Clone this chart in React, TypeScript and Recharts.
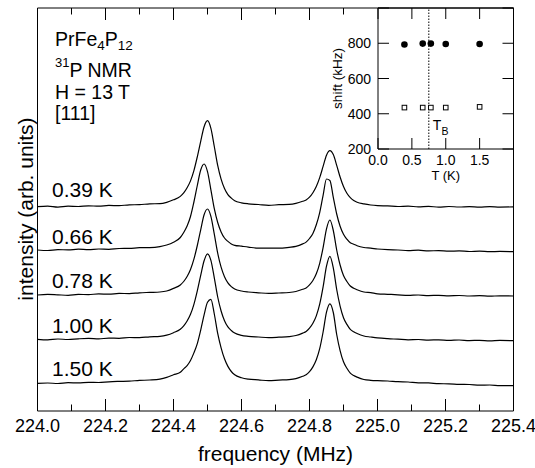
import React from 'react';
import {
  LineChart,
  Line,
  XAxis,
  YAxis,
  ReferenceArea,
  ReferenceLine,
  ScatterChart,
  Scatter,
} from 'recharts';

// ---------- data ----------
const freq = [
  224.0, 224.03, 224.06, 224.09, 224.12, 224.15, 224.18, 224.21, 224.24, 224.27, 224.3, 224.33, 224.36,
  224.38, 224.4, 224.42, 224.43, 224.44, 224.45, 224.46, 224.47, 224.48, 224.49, 224.5, 224.51, 224.52,
  224.53, 224.54, 224.55, 224.56, 224.57, 224.58, 224.6, 224.62,
  224.65, 224.68, 224.71, 224.74, 224.76, 224.78,
  224.79, 224.8, 224.81, 224.82, 224.83, 224.84, 224.85, 224.86, 224.87, 224.88, 224.89, 224.9, 224.91,
  224.92, 224.93, 224.94, 224.96, 224.98,
  225.0, 225.03, 225.06, 225.09, 225.12, 225.15, 225.18, 225.21, 225.24, 225.27, 225.3, 225.33, 225.36, 225.4,
];

const sig039 = [
  0, 0.6, -0.4, 0.5, 0.2, 0.9, 0.5, 1.3, 1.0, 1.9, 2.0, 2.9, 3.0,
  4.3, 6.9, 10.3, 13.8, 18.9, 25.8, 36.1, 49.9, 65.4, 80.0, 86.0, 78.3, 60.2, 41.3, 27.5, 18.1, 12.0, 8.6, 6.0, 3.9, 2.9,
  2.2, 1.4, 2.0, 2.3, 3.3, 5.4,
  6.7, 9.5, 14.0, 20.2, 29.1, 40.3, 51.5, 56.0, 52.1, 41.4, 29.7, 20.2, 13.4, 9.0, 6.2, 4.5, 2.8, 1.7,
  1.1, 0.8, 0.2, 0.6, -0.2, 0.3, -0.4, 0.2, -0.3, 0.1, -0.5, 0.0, -0.4, -0.2,
];

const sig066 = [
  0, -0.5, 0.4, 0.1, 0.8, 0.3, 1.0, 0.7, 1.5, 1.6, 2.3, 2.4, 3.4,
  5.0, 7.8, 12.5, 17.5, 24.0, 33.5, 48.0, 64.5, 80.0, 86.0, 78.3, 60.2, 41.3, 27.5, 18.1, 12.0, 8.6, 6.0, 4.7, 3.8, 2.9,
  1.8, 1.9, 1.8, 2.7, 3.6, 6.1,
  7.9, 11.5, 16.6, 25.2, 37.4, 54.7, 71.0, 69.5, 52.6, 36.0, 23.8, 15.8, 10.8, 7.2, 5.8, 4.3, 2.5, 1.9,
  1.0, 0.3, 0.0, -0.6, -0.2, -0.9, -0.6, -1.2, -0.9, -1.5, -1.1, -1.7, -1.4, -1.7,
];

const sig078 = [
  0, 0.7, 0.2, -0.3, 0.6, 0.4, 1.1, 0.8, 1.6, 1.4, 2.2, 2.6, 3.0,
  4.0, 6.6, 10.0, 13.5, 18.5, 25.5, 35.8, 49.5, 65.2, 80.2, 86.0, 78.6, 60.8, 41.8, 27.8, 18.3, 12.2, 8.4, 6.1, 4.0, 3.0,
  2.2, 1.6, 2.0, 2.5, 3.5, 5.7,
  7.1, 10.1, 14.5, 21.2, 31.7, 47.4, 66.1, 75.0, 64.5, 45.0, 30.0, 19.5, 13.5, 9.0, 6.8, 5.3, 3.0, 2.3,
  1.2, 0.7, 0.2, -0.4, 0.0, -0.6, -0.3, -0.8, -0.5, -1.0, -0.7, -1.2, -0.8, -1.0,
];

const sig100 = [
  0, -0.6, 0.3, -0.2, 0.5, 0.9, 0.4, 1.2, 1.0, 1.8, 1.6, 2.5, 3.0,
  4.2, 6.6, 10.0, 13.4, 18.3, 25.0, 35.0, 48.5, 64.0, 78.6, 85.5, 79.0, 61.5, 42.3, 28.3, 18.6, 12.4, 8.8, 6.2, 3.9, 3.0,
  2.3, 1.7, 2.1, 2.7, 3.8, 6.2,
  7.8, 11.1, 16.0, 23.4, 35.1, 52.4, 73.1, 83.0, 71.4, 49.8, 33.2, 21.6, 14.9, 10.0, 7.5, 5.8, 3.3, 2.3,
  1.4, 0.6, 0.1, -0.5, -0.2, -0.8, -0.5, -1.1, -0.7, -1.3, -1.0, -1.5, -1.1, -1.4,
];

const sig150 = [
  0, 0.3, -0.2, 0.6, 0.4, 1.0, 0.8, 1.5, 1.9, 2.2, 2.9, 3.3, 4.2,
  5.9, 8.5, 11.0, 14.4, 17.7, 22.8, 30.4, 39.7, 53.2, 68.4, 81.1, 84.0, 69.3, 49.9, 35.5, 24.5, 16.9, 11.8, 8.5, 5.6, 4.2,
  3.4, 2.6, 3.2, 3.7, 4.7, 7.0,
  8.5, 11.6, 16.4, 23.5, 34.6, 51.3, 71.2, 79.5, 70.8, 48.8, 32.7, 21.5, 15.0, 10.2, 7.8, 6.2, 3.8, 3.0,
  2.6, 2.3, 1.6, 1.3, 0.5, 0.4, -0.4, -0.5, -1.1, -1.2, -1.8, -1.7, -2.3, -2.4,
];

const tempLabels = ['0.39 K', '0.66 K', '0.78 K', '1.00 K', '1.50 K'];
const offsets = [204.3, 161, 116, 71.7, 27.7];
const signals = [sig039, sig066, sig078, sig100, sig150];

const freqTicks = [
  224.0, 224.1, 224.2, 224.3, 224.4, 224.5, 224.6, 224.7, 224.8, 224.9, 225.0, 225.1, 225.2, 225.3, 225.4,
];

// inset
const insetT = [0.39, 0.66, 0.78, 1.0, 1.5];
const shiftHigh = [793, 798, 798, 796, 796];
const shiftLow = [435, 435, 435, 435, 439];
const TB = 0.75;
const insetTTicks = [0, 0.5, 1.0, 1.5, 2.0];
const insetShiftTicks = [200, 400, 600, 800, 1000];

// ---------- layout ----------
const W = 535;
const H = 468;
const FONT = '"Liberation Sans", Arial, Helvetica, sans-serif';
const PLOT_TOP = 8;
const PLOT_BOTTOM = 411;
const PLOT_LEFT = 37.5;
const PLOT_RIGHT = 513.5;
const INSET_LEFT = 378;
const INSET_BOTTOM = 149;
const INSET_FREQ_START = 225.0;

const keys = ['t039', 't066', 't078', 't100', 't150'];

const rows = freq.map((f, i) => {
  const r: Record<string, number> = { f };
  keys.forEach((k, j) => {
    r[k] = offsets[j] + signals[j][i];
  });
  return r;
});

const highData = insetT.map((t, i) => ({ t, s: shiftHigh[i] }));
const lowData = insetT.map((t, i) => ({ t, s: shiftLow[i] }));

const MainTick = (props: any) => {
  const { x, payload } = props;
  const v = payload.value as number;
  const major = Math.round(v * 10) % 2 === 0;
  const len = major ? 12 : 6.5;
  return (
    <g>
      <line x1={x} x2={x} y1={PLOT_BOTTOM} y2={PLOT_BOTTOM - len} stroke="#000" strokeWidth={1} />
      {v < INSET_FREQ_START - 1e-6 && (
        <line x1={x} x2={x} y1={PLOT_TOP} y2={PLOT_TOP + len} stroke="#000" strokeWidth={1} />
      )}
      {major && (
        <text x={x} y={PLOT_BOTTOM + 20.5} textAnchor="middle" fontSize={18} fontFamily={FONT} fill="#000">
          {v.toFixed(1)}
        </text>
      )}
    </g>
  );
};

const InsetXTick = (props: any) => {
  const { x, payload } = props;
  const v = payload.value as number;
  return (
    <g>
      <line x1={x} x2={x} y1={INSET_BOTTOM} y2={INSET_BOTTOM - 11} stroke="#000" strokeWidth={1} />
      <line x1={x} x2={x} y1={PLOT_TOP} y2={PLOT_TOP + 11} stroke="#000" strokeWidth={1} />
      {v < 2 && (
        <text x={x} y={INSET_BOTTOM + 16} textAnchor="middle" fontSize={14} fontFamily={FONT} fill="#000">
          {v.toFixed(1)}
        </text>
      )}
    </g>
  );
};

const InsetYTick = (props: any) => {
  const { y, payload } = props;
  const v = payload.value as number;
  return (
    <g>
      <line x1={INSET_LEFT} x2={INSET_LEFT + 11} y1={y} y2={y} stroke="#000" strokeWidth={1} />
      <line x1={PLOT_RIGHT} x2={PLOT_RIGHT - 11} y1={y} y2={y} stroke="#000" strokeWidth={1} />
      {v < 1000 && (
        <text x={INSET_LEFT - 7} y={y + 5} textAnchor="end" fontSize={14} fontFamily={FONT} fill="#000">
          {v}
        </text>
      )}
    </g>
  );
};

const TBLabel = (props: any) => {
  const vb = props.viewBox || { x: 428.7, y: PLOT_TOP };
  const x = vb.x + 4;
  const y = vb.y + 122;
  return (
    <text x={x} y={y} fontSize={14} fontFamily={FONT} fill="#000">
      T
      <tspan fontSize={10.5} dy={5}>
        B
      </tspan>
    </text>
  );
};

const FilledDot = (p: any) => <circle cx={p.cx} cy={p.cy} r={3.3} fill="#000" />;
const OpenSquare = (p: any) => (
  <rect x={p.cx - 2.3} y={p.cy - 2.3} width={4.6} height={4.6} fill="#fff" stroke="#000" strokeWidth={1} />
);

const labelBaselines = [197, 244, 288, 333, 376];

export default function App() {
  return (
    <div style={{ position: 'absolute', left: 0, top: 0, width: W, height: H, background: '#fff' }}>
      <div style={{ position: 'absolute', left: 0, top: 0 }}>
        <LineChart
          width={W}
          height={H}
          data={rows}
          margin={{ top: PLOT_TOP, right: W - PLOT_RIGHT, bottom: H - PLOT_BOTTOM - 30, left: PLOT_LEFT }}
        >
          <XAxis
            dataKey="f"
            type="number"
            domain={[224, 225.4]}
            ticks={freqTicks}
            interval={0}
            axisLine={false}
            tickLine={false}
            tick={(p: any) => <MainTick {...p} />}
            height={30}
            allowDataOverflow
          />
          <YAxis hide type="number" domain={[0, 403]} allowDataOverflow />
          <ReferenceArea
            x1={224}
            x2={225.4}
            y1={0}
            y2={403}
            fill="#fff"
            fillOpacity={0}
            stroke="#000"
            strokeWidth={1}
            strokeOpacity={1}
            ifOverflow="visible"
          />
          {keys.map((k) => (
            <Line
              key={k}
              dataKey={k}
              type="monotone"
              stroke="#000"
              strokeWidth={1.2}
              dot={false}
              activeDot={false}
              isAnimationActive={false}
            />
          ))}
        </LineChart>
      </div>

      <div style={{ position: 'absolute', left: 0, top: 0, pointerEvents: 'none' }}>
        <ScatterChart
          width={W}
          height={H}
          margin={{ top: PLOT_TOP, right: W - PLOT_RIGHT, bottom: H - INSET_BOTTOM - 30, left: INSET_LEFT - 60 }}
        >
          <XAxis
            dataKey="t"
            type="number"
            domain={[0, 2]}
            ticks={insetTTicks}
            interval={0}
            axisLine={false}
            tickLine={false}
            tick={(p: any) => <InsetXTick {...p} />}
            height={30}
            allowDataOverflow
          />
          <YAxis
            dataKey="s"
            type="number"
            domain={[200, 1000]}
            ticks={insetShiftTicks}
            interval={0}
            axisLine={false}
            tickLine={false}
            tick={(p: any) => <InsetYTick {...p} />}
            width={60}
            allowDataOverflow
          />
          <ReferenceArea
            x1={0}
            x2={2}
            y1={200}
            y2={1000}
            fill="#fff"
            fillOpacity={0}
            stroke="#000"
            strokeWidth={1}
            strokeOpacity={1}
            ifOverflow="visible"
          />
          <ReferenceLine x={TB} stroke="#000" strokeWidth={1} strokeDasharray="1.5 1.5" label={<TBLabel />} />
          <Scatter data={highData} shape={FilledDot} isAnimationActive={false} />
          <Scatter data={lowData} shape={OpenSquare} isAnimationActive={false} />
        </ScatterChart>
      </div>

      <svg
        width={W}
        height={H}
        style={{ position: 'absolute', left: 0, top: 0, pointerEvents: 'none' }}
        fontFamily={FONT}
      >
        {tempLabels.map((t, i) => (
          <text key={t} x={52} y={labelBaselines[i]} fontSize={21} fill="#000">
            {t}
          </text>
        ))}
        <text x={55} y={46} fontSize={19.5} fill="#000">
          PrFe
          <tspan fontSize={13.5} dy={4}>4</tspan>
          <tspan dy={-4}>P</tspan>
          <tspan fontSize={13.5} dy={4}>12</tspan>
        </text>
        <text x={55} y={77} fontSize={19.5} fill="#000">
          <tspan fontSize={13} dy={-10.5}>31</tspan>
          <tspan dy={10.5}>P NMR</tspan>
        </text>
        <text x={55} y={98.5} fontSize={19.5} fill="#000">
          H = 13 T
        </text>
        <text x={55} y={120} fontSize={19.5} fill="#000">
          [111]
        </text>
        <text x={(PLOT_LEFT + PLOT_RIGHT) / 2} y={461} fontSize={21} textAnchor="middle" fill="#000">
          frequency (MHz)
        </text>
        <text transform="translate(33,209) rotate(-90)" fontSize={21} textAnchor="middle" fill="#000">
          intensity (arb. units)
        </text>
        <text x={(INSET_LEFT + PLOT_RIGHT) / 2} y={180} fontSize={13} textAnchor="middle" fill="#000">
          T (K)
        </text>
        <text transform="translate(342,78.5) rotate(-90)" fontSize={13.5} textAnchor="middle" fill="#000">
          shift (kHz)
        </text>
      </svg>
    </div>
  );
}
